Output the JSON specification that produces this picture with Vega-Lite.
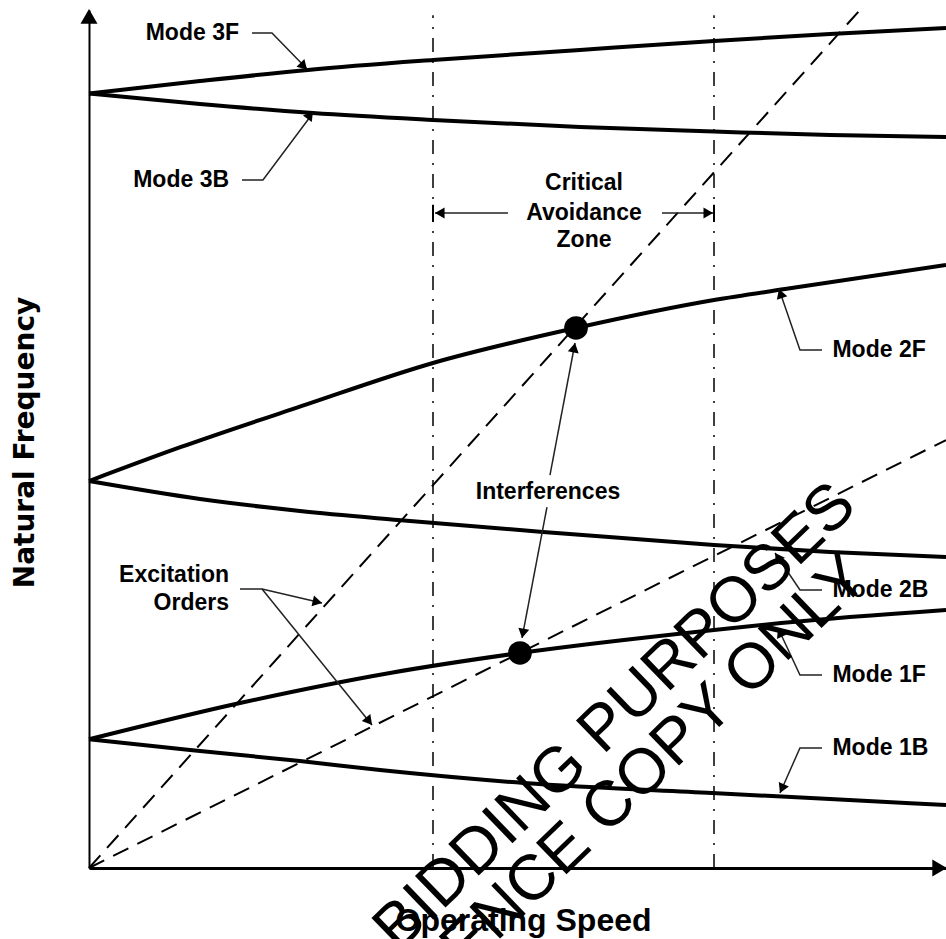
{
  "$schema": "https://vega.github.io/schema/vega-lite/v6.json",
  "width": 857,
  "height": 858,
  "autosize": {"type": "none"},
  "padding": {"left": 89, "top": 10, "right": 0, "bottom": 71},
  "background": "white",
  "config": {"view": {"stroke": null}},
  "datasets": {
    "curves": [
      {"series": "Mode 3F", "speed": 0, "freq": 90.27},
      {"series": "Mode 3F", "speed": 12.95, "freq": 91.72},
      {"series": "Mode 3F", "speed": 25.55, "freq": 93.01},
      {"series": "Mode 3F", "speed": 40.14, "freq": 94.17},
      {"series": "Mode 3F", "speed": 57.29, "freq": 95.34},
      {"series": "Mode 3F", "speed": 72.93, "freq": 96.39},
      {"series": "Mode 3F", "speed": 86.46, "freq": 97.2},
      {"series": "Mode 3F", "speed": 100, "freq": 97.9},
      {"series": "Mode 3B", "speed": 0, "freq": 90.27},
      {"series": "Mode 3B", "speed": 12.95, "freq": 89.04},
      {"series": "Mode 3B", "speed": 26.14, "freq": 87.99},
      {"series": "Mode 3B", "speed": 40.14, "freq": 87.18},
      {"series": "Mode 3B", "speed": 57.29, "freq": 86.36},
      {"series": "Mode 3B", "speed": 72.93, "freq": 85.84},
      {"series": "Mode 3B", "speed": 86.46, "freq": 85.43},
      {"series": "Mode 3B", "speed": 100, "freq": 85.2},
      {"series": "Mode 2F", "speed": 0, "freq": 45.1},
      {"series": "Mode 2F", "speed": 10.74, "freq": 49.07},
      {"series": "Mode 2F", "speed": 24.85, "freq": 53.85},
      {"series": "Mode 2F", "speed": 40.14, "freq": 58.86},
      {"series": "Mode 2F", "speed": 56.83, "freq": 62.94},
      {"series": "Mode 2F", "speed": 72.93, "freq": 66.2},
      {"series": "Mode 2F", "speed": 81.21, "freq": 67.48},
      {"series": "Mode 2F", "speed": 100, "freq": 70.28},
      {"series": "Mode 2B", "speed": 0, "freq": 45.1},
      {"series": "Mode 2B", "speed": 12.95, "freq": 43.01},
      {"series": "Mode 2B", "speed": 24.62, "freq": 41.61},
      {"series": "Mode 2B", "speed": 36.06, "freq": 40.56},
      {"series": "Mode 2B", "speed": 52.98, "freq": 39.16},
      {"series": "Mode 2B", "speed": 72.93, "freq": 37.65},
      {"series": "Mode 2B", "speed": 86.46, "freq": 36.83},
      {"series": "Mode 2B", "speed": 100, "freq": 36.25},
      {"series": "Mode 1F", "speed": 0, "freq": 15.0},
      {"series": "Mode 1F", "speed": 17.62, "freq": 19.23},
      {"series": "Mode 1F", "speed": 35.12, "freq": 22.73},
      {"series": "Mode 1F", "speed": 50.29, "freq": 25.06},
      {"series": "Mode 1F", "speed": 72.93, "freq": 27.74},
      {"series": "Mode 1F", "speed": 80.75, "freq": 28.55},
      {"series": "Mode 1F", "speed": 100, "freq": 30.07},
      {"series": "Mode 1B", "speed": 0, "freq": 15.0},
      {"series": "Mode 1B", "speed": 11.79, "freq": 13.75},
      {"series": "Mode 1B", "speed": 24.62, "freq": 12.47},
      {"series": "Mode 1B", "speed": 33.96, "freq": 11.42},
      {"series": "Mode 1B", "speed": 50.76, "freq": 9.91},
      {"series": "Mode 1B", "speed": 72.7, "freq": 8.74},
      {"series": "Mode 1B", "speed": 86.46, "freq": 8.04},
      {"series": "Mode 1B", "speed": 100, "freq": 7.34}
    ],
    "orders": [
      {"series": "Order A", "speed": 0, "freq": 0},
      {"series": "Order A", "speed": 89.96, "freq": 100},
      {"series": "Order B", "speed": 0, "freq": 0},
      {"series": "Order B", "speed": 100, "freq": 49.88}
    ],
    "zone": [
      {"speed": 40.14, "freq": 0, "freq2": 99.4},
      {"speed": 72.93, "freq": 0, "freq2": 99.4}
    ],
    "zoneTicks": [
      {"speed": 40.14, "freq": 75.3, "freq2": 77.3},
      {"speed": 72.93, "freq": 75.3, "freq2": 77.3}
    ],
    "leaders": [
      {"series": "L3F", "i": 1, "speed": 19.02, "freq": 97.32},
      {"series": "L3F", "i": 2, "speed": 21.35, "freq": 97.32},
      {"series": "L3F", "i": 3, "speed": 25.44, "freq": 93.12},
      {"series": "L3B", "i": 1, "speed": 17.85, "freq": 80.19},
      {"series": "L3B", "i": 2, "speed": 20.3, "freq": 80.19},
      {"series": "L3B", "i": 3, "speed": 26.14, "freq": 88.0},
      {"series": "L2F", "i": 1, "speed": 85.53, "freq": 60.37},
      {"series": "L2F", "i": 2, "speed": 82.96, "freq": 60.37},
      {"series": "L2F", "i": 3, "speed": 80.51, "freq": 67.48},
      {"series": "L2B", "i": 1, "speed": 85.53, "freq": 32.4},
      {"series": "L2B", "i": 2, "speed": 82.96, "freq": 32.4},
      {"series": "L2B", "i": 3, "speed": 80.05, "freq": 36.71},
      {"series": "L1F", "i": 1, "speed": 85.53, "freq": 22.49},
      {"series": "L1F", "i": 2, "speed": 82.96, "freq": 22.49},
      {"series": "L1F", "i": 3, "speed": 80.4, "freq": 27.97},
      {"series": "L1B", "i": 1, "speed": 85.53, "freq": 13.99},
      {"series": "L1B", "i": 2, "speed": 82.96, "freq": 13.99},
      {"series": "L1B", "i": 3, "speed": 80.63, "freq": 8.74},
      {"series": "LEx1", "i": 1, "speed": 17.62, "freq": 32.52},
      {"series": "LEx1", "i": 2, "speed": 20.19, "freq": 32.52},
      {"series": "LEx1", "i": 3, "speed": 27.19, "freq": 30.89},
      {"series": "LEx2", "i": 1, "speed": 20.19, "freq": 32.52},
      {"series": "LEx2", "i": 2, "speed": 33.02, "freq": 16.67}
    ],
    "segments": [
      {"speed": 53.79, "freq": 45.8, "speed2": 56.71, "freq2": 61.19},
      {"speed": 53.44, "freq": 42.07, "speed2": 50.53, "freq2": 26.81},
      {"speed": 48.89, "freq": 76.34, "speed2": 40.37, "freq2": 76.34},
      {"speed": 66.86, "freq": 76.34, "speed2": 72.81, "freq2": 76.34}
    ],
    "heads": [
      {"speed": 25.06, "freq": 93.44, "dir": 135.8},
      {"speed": 25.81, "freq": 87.78, "dir": 36.7},
      {"speed": 80.69, "freq": 66.96, "dir": -19},
      {"speed": 80.36, "freq": 36.25, "dir": -34},
      {"speed": 80.63, "freq": 27.47, "dir": -25},
      {"speed": 80.85, "freq": 9.25, "dir": -156},
      {"speed": 26.65, "freq": 31.02, "dir": 103},
      {"speed": 32.68, "freq": 17.1, "dir": 141},
      {"speed": 56.61, "freq": 60.64, "dir": 10.7},
      {"speed": 50.63, "freq": 27.35, "dir": -169.2},
      {"speed": 40.93, "freq": 76.34, "dir": -90},
      {"speed": 72.26, "freq": 76.34, "dir": 90}
    ],
    "axisHeads": [
      {"speed": 0, "freq": 99.25, "dir": 0},
      {"speed": 99.26, "freq": 0, "dir": 90}
    ],
    "interferences": [
      {"speed": 56.83, "freq": 62.94},
      {"speed": 50.29, "freq": 25.06}
    ],
    "labelsRight": [
      {"label": "Mode 3F", "speed": 17.5, "freq": 97.32},
      {"label": "Mode 3B", "speed": 16.34, "freq": 80.19},
      {"label": "Excitation", "speed": 16.34, "freq": 34.15},
      {"label": "Orders", "speed": 16.34, "freq": 30.89}
    ],
    "labelsLeft": [
      {"label": "Mode 2F", "speed": 86.75, "freq": 60.37},
      {"label": "Mode 2B", "speed": 86.75, "freq": 32.4},
      {"label": "Mode 1F", "speed": 86.75, "freq": 22.49},
      {"label": "Mode 1B", "speed": 86.75, "freq": 13.99}
    ],
    "labelsCenter": [
      {"label": "Critical", "speed": 57.76, "freq": 79.84},
      {"label": "Avoidance", "speed": 57.76, "freq": 76.34},
      {"label": "Zone", "speed": 57.76, "freq": 73.19},
      {"label": "Interferences", "speed": 53.56, "freq": 43.82}
    ],
    "watermark": [
      {"label": "BIDDING PURPOSES", "speed": 88.27, "freq": 43.47},
      {"label": "REFERENCE COPY ONLY", "speed": 89.67, "freq": 35.08}
    ]
  },
  "encoding": {
    "x": {
      "field": "speed",
      "type": "quantitative",
      "scale": {"domain": [0, 100], "nice": false, "zero": false},
      "axis": {
        "title": "Operating Speed",
        "domain": true,
        "domainColor": "black",
        "domainWidth": 3,
        "ticks": false,
        "labels": false,
        "grid": false,
        "titleFont": "Liberation Sans",
        "titleFontSize": 32,
        "titleFontWeight": "bold",
        "titleColor": "black",
        "titleX": 434,
        "titleY": 52,
        "titleBaseline": "middle",
        "titleAlign": "center"
      }
    },
    "y": {
      "field": "freq",
      "type": "quantitative",
      "scale": {"domain": [0, 100], "nice": false, "zero": false},
      "axis": {
        "title": "Natural Frequency",
        "domain": true,
        "domainColor": "black",
        "domainWidth": 2,
        "ticks": false,
        "labels": false,
        "grid": false,
        "titleFont": "DejaVu Sans",
        "titleFontSize": 28,
        "titleFontWeight": "bold",
        "titleColor": "black",
        "titleX": -64,
        "titleY": 432,
        "titleAngle": -90,
        "titleBaseline": "middle",
        "titleAlign": "center"
      }
    }
  },
  "layer": [
    {
      "data": {"name": "zone"},
      "mark": {"type": "rule", "color": "black", "strokeWidth": 1.5, "strokeDash": [14, 9, 2, 9]},
      "encoding": {"y2": {"field": "freq2"}}
    },
    {
      "data": {"name": "zoneTicks"},
      "mark": {"type": "rule", "color": "black", "strokeWidth": 2},
      "encoding": {"y2": {"field": "freq2"}}
    },
    {
      "data": {"name": "orders"},
      "mark": {"type": "line", "color": "black", "strokeWidth": 2, "strokeDash": [17, 10]},
      "encoding": {"detail": {"field": "series"}}
    },
    {
      "data": {"name": "curves"},
      "mark": {"type": "line", "color": "black", "strokeWidth": 4, "interpolate": "monotone"},
      "encoding": {"detail": {"field": "series"}}
    },
    {
      "data": {"name": "leaders"},
      "mark": {"type": "line", "color": "#222222", "strokeWidth": 1.5},
      "encoding": {"detail": {"field": "series"}, "order": {"field": "i"}}
    },
    {
      "data": {"name": "segments"},
      "mark": {"type": "rule", "color": "#222222", "strokeWidth": 1.5},
      "encoding": {"x2": {"field": "speed2"}, "y2": {"field": "freq2"}}
    },
    {
      "data": {"name": "heads"},
      "mark": {"type": "point", "shape": "triangle-up", "filled": true, "color": "black", "opacity": 1, "size": 121},
      "encoding": {"angle": {"field": "dir", "type": "quantitative", "scale": {"type": "linear", "domain": [-360, 360], "range": [-360, 360]}}}
    },
    {
      "data": {"name": "axisHeads"},
      "mark": {"type": "point", "shape": "triangle-up", "filled": true, "color": "black", "opacity": 1, "size": 289},
      "encoding": {"angle": {"field": "dir", "type": "quantitative", "scale": {"type": "linear", "domain": [-360, 360], "range": [-360, 360]}}}
    },
    {
      "data": {"name": "interferences"},
      "mark": {"type": "point", "shape": "circle", "filled": true, "color": "black", "opacity": 1, "size": 560}
    },
    {
      "data": {"name": "labelsRight"},
      "mark": {"type": "text", "align": "right", "baseline": "middle", "font": "Liberation Sans", "fontSize": 23, "fontWeight": "bold", "color": "black"},
      "encoding": {"text": {"field": "label"}}
    },
    {
      "data": {"name": "labelsLeft"},
      "mark": {"type": "text", "align": "left", "baseline": "middle", "font": "Liberation Sans", "fontSize": 23, "fontWeight": "bold", "color": "black"},
      "encoding": {"text": {"field": "label"}}
    },
    {
      "data": {"name": "labelsCenter"},
      "mark": {"type": "text", "align": "center", "baseline": "middle", "font": "Liberation Sans", "fontSize": 23, "fontWeight": "bold", "color": "black"},
      "encoding": {"text": {"field": "label"}}
    },
    {
      "data": {"name": "watermark"},
      "mark": {"type": "text", "align": "right", "baseline": "middle", "angle": -44, "font": "Liberation Sans", "fontSize": 64, "fontWeight": "normal", "color": "black"},
      "encoding": {"text": {"field": "label"}}
    }
  ]
}
